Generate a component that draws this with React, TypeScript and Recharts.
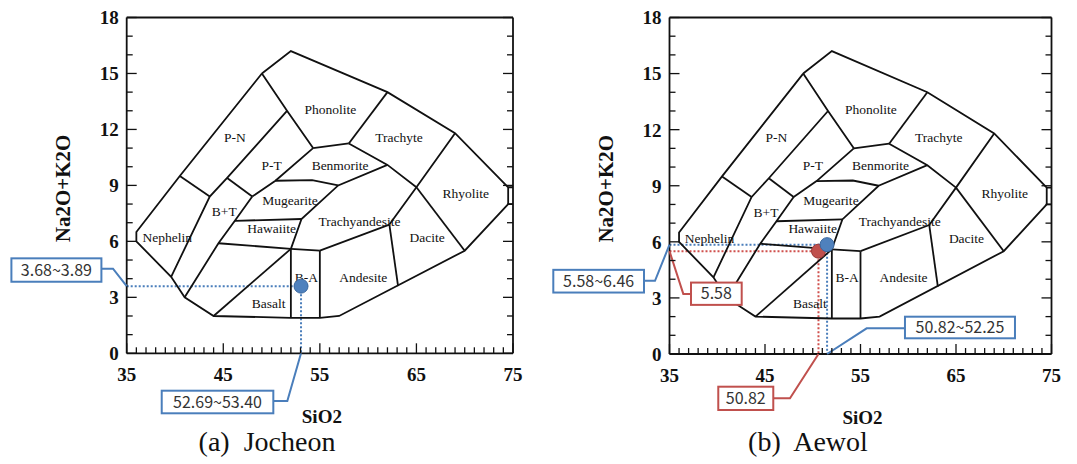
import React from 'react'
import { ComposedChart, Scatter, XAxis, YAxis, ReferenceLine, ReferenceDot } from 'recharts'

type Pt = [number, number]

// TAS field boundaries (SiO2, Na2O+K2O)
const outline: Pt[] = [
  [49, 15], [52, 16.2], [62, 14], [69, 11.8], [74.5, 8.9], [74.5, 8], [70, 5.5], [57, 2],
  [55, 1.9], [52, 1.9], [44, 2], [41, 3], [39.6, 4.1], [36, 6], [36, 6.5], [40.5, 9.5], [49, 15]
]
const fieldLines: Pt[][] = [
  [[49, 15], [51.6, 13], [54.3, 11]],
  [[51.6, 13], [45.4, 9.4], [43.6, 8.4], [39.6, 4.1]],
  [[40.5, 9.5], [43.6, 8.4]],
  [[45.4, 9.4], [48, 8.4]],
  [[48, 8.4], [46.2, 7.1], [44.5, 5.9], [41, 3]],
  [[54.3, 11], [50.4, 9.25], [48, 8.4]],
  [[54.3, 11], [58, 11.25]],
  [[62, 14], [58, 11.25]],
  [[58, 11.25], [62, 10.1], [65, 8.9]],
  [[69, 11.8], [65, 8.9], [62.2, 6.9]],
  [[65, 8.9], [70, 5.5]],
  [[62, 10.1], [56.9, 9], [53.1, 7.2], [52, 5.6]],
  [[50.4, 9.25], [54.2, 9.28], [56.9, 9]],
  [[46.2, 7.1], [53.1, 7.2]],
  [[44.5, 5.9], [52, 5.6], [55, 5.5]],
  [[55, 5.5], [62.2, 6.9]],
  [[62.2, 6.9], [63.1, 3.6]],
  [[44, 2], [52, 5.6]],
  [[52, 5.6], [52, 1.9]],
  [[55, 5.5], [55, 1.9]],
  [[74.5, 8.9], [75, 8.9]],
  [[74.5, 8], [75, 8]]
]

const fieldNames = ['Phonolite', 'Trachyte', 'P-N', 'P-T', 'Benmorite', 'Rhyolite', 'Mugearite', 'B+T',
  'Trachyandesite', 'Hawaiite', 'Nephelin', 'Dacite', 'B-A', 'Andesite', 'Basalt']
const fieldNameX = [56.1, 63.2, 46.2, 50.0, 57.1, 70.1, 51.9, 45.1, 59.1, 50.0, 39.2, 66.1, 53.6, 59.5, 49.7]
const fieldNameY = [13.1, 11.6, 11.6, 10.1, 10.1, 8.6, 8.2, 7.6, 7.1, 6.7, 6.2, 6.2, 4.1, 4.1, 2.7]

const xLabelTicks = [35, 45, 55, 65, 75]
const yLabelTicks = [0, 3, 6, 9, 12, 15, 18]

// samples
const jocheonSiO2 = [53.05]
const jocheonAlkali = [3.6]
const jocheonSiO2Range = [52.69, 53.4]
const jocheonAlkaliRange = [3.68, 3.89]

const aewolSiO2 = [51.5]
const aewolAlkali = [5.85]
const aewolSiO2Range = [50.82, 52.25]
const aewolAlkaliRange = [5.58, 6.46]
const aewolMinSiO2 = [50.6]
const aewolMinAlkali = [5.5]
const aewolMinValues = [50.82, 5.58]

const INK = '#111'
const BLUE = '#4a7ebb'
const RED = '#c0504d'
const SERIF = 'Liberation Serif, DejaVu Serif, serif'
const SANS = 'Noto Sans CJK KR, Noto Sans, sans-serif'

const range = (a: number, b: number) => {
  const r: number[] = []
  for (let v = a; v <= b; v++) r.push(v)
  return r
}
const xMinorTicks = range(35, 75)
const yMinorTicks = range(0, 18)

const toPts = (line: Pt[]) => line.map(([x, y]) => ({ x, y }))
const fieldLabelData = fieldNames.map((name, i) => ({ name, x: fieldNameX[i], y: fieldNameY[i] }))
const fmt = (r: number[]) => r.map(v => v.toFixed(2)).join('~')

const axisStyle = { stroke: INK, strokeWidth: 1.8 }

function BottomTick(props: any) {
  const { x, y, payload } = props
  const major = xLabelTicks.includes(payload.value)
  return (
    <g>
      <line x1={x} x2={x} y1={y} y2={y - (major ? 10 : 6)} stroke={INK} strokeWidth={1.3} />
      {major && (
        <text x={x} y={y + 28} textAnchor="middle" style={{ fontFamily: SERIF }} fontWeight="bold" fontSize={19} fill={INK}>
          {payload.value}
        </text>
      )}
    </g>
  )
}

function TopTick(props: any) {
  const { x, y, payload } = props
  const major = xLabelTicks.includes(payload.value)
  return <line x1={x} x2={x} y1={y} y2={y + (major ? 10 : 6)} stroke={INK} strokeWidth={1.3} />
}

function LeftTick(props: any) {
  const { x, y, payload } = props
  const major = yLabelTicks.includes(payload.value)
  return (
    <g>
      <line x1={x} x2={x + (major ? 10 : 6)} y1={y} y2={y} stroke={INK} strokeWidth={1.3} />
      {major && (
        <text x={x - 8} y={y} dy="0.36em" textAnchor="end" style={{ fontFamily: SERIF }} fontWeight="bold" fontSize={19} fill={INK}>
          {payload.value}
        </text>
      )}
    </g>
  )
}

function RightTick(props: any) {
  const { x, y, payload } = props
  const major = yLabelTicks.includes(payload.value)
  return <line x1={x} x2={x - (major ? 10 : 6)} y1={y} y2={y} stroke={INK} strokeWidth={1.3} />
}

const NoPoint = () => <g />

const renderFieldName = (p: any) => (
  <text x={p.cx} y={p.cy} dy="0.35em" textAnchor="middle" style={{ fontFamily: SERIF }} fontSize={13.5} fill={INK}>
    {p.payload.name}
  </text>
)

const dot = (fill: string, edge: string) => (p: any) => (
  <circle cx={p.cx} cy={p.cy} r={7} fill={fill} stroke={edge} strokeWidth={1} />
)

interface Callout {
  text: string
  x: number
  y: number
  color: string
  box: [number, number, number, number] // dx, dy, w, h from the anchor in px
  leader: Pt[]
}

const calloutShape = (c: Callout) => (p: any) => {
  const { cx, cy } = p
  const [dx, dy, w, h] = c.box
  const pts = [...c.leader, [0, 0]].map(([a, b]) => `${cx + a},${cy + b}`).join(' ')
  return (
    <g>
      <polyline points={pts} fill="none" stroke={c.color} strokeWidth={2} />
      <rect x={cx + dx} y={cy + dy} width={w} height={h} fill="#fff" stroke={c.color} strokeWidth={2} />
      <text x={cx + dx + w / 2} y={cy + dy + h / 2} dy="0.36em" textAnchor="middle" style={{ fontFamily: SANS }} fontSize={16} fill="#333">
        {c.text}
      </text>
    </g>
  )
}

interface Guide { x: number; y: number; color: string }
interface Sample { x: number; y: number; fill: string; edge: string }

function TasDiagram(props: {
  width: number
  margin: { top: number; right: number; bottom: number; left: number }
  samples: Sample[]
  guides: Guide[]
  callouts: Callout[]
}) {
  const { width, margin, samples, guides, callouts } = props
  const xTitle = (p: any) => {
    const vb = p.viewBox
    return (
      <text x={vb.x + vb.width / 2 + 2} y={vb.y + 70} textAnchor="middle" style={{ fontFamily: SERIF }} fontWeight="bold" fontSize={19} fill={INK}>
        SiO2
      </text>
    )
  }
  const yTitle = (p: any) => {
    const vb = p.viewBox
    const cx = vb.x + vb.width - 64
    const cy = vb.y + vb.height / 2 + 3
    return (
      <text x={cx} y={cy} dy="0.36em" textAnchor="middle" transform={`rotate(-90 ${cx} ${cy})`}
        style={{ fontFamily: SERIF }} fontWeight="bold" fontSize={21} fill={INK}>
        Na2O+K2O
      </text>
    )
  }
  return (
    <ComposedChart width={width} height={464} margin={margin}>
      <XAxis type="number" dataKey="x" domain={[35, 75]} allowDataOverflow ticks={xMinorTicks} interval={0}
        tickSize={0} tickMargin={0} tick={<BottomTick />} tickLine={false} axisLine={axisStyle} height={40} label={xTitle} />
      <XAxis xAxisId="top" orientation="top" type="number" domain={[35, 75]} allowDataOverflow ticks={xMinorTicks}
        interval={0} tickSize={0} tickMargin={0} tick={<TopTick />} tickLine={false} axisLine={axisStyle} height={1} />
      <YAxis type="number" dataKey="y" domain={[0, 18]} allowDataOverflow ticks={yMinorTicks} interval={0}
        tickSize={0} tickMargin={0} tick={<LeftTick />} tickLine={false} axisLine={axisStyle} width={60} label={yTitle} />
      <YAxis yAxisId="right" orientation="right" type="number" domain={[0, 18]} allowDataOverflow ticks={yMinorTicks}
        interval={0} tickSize={0} tickMargin={0} tick={<RightTick />} tickLine={false} axisLine={axisStyle} width={1} />

      {[outline, ...fieldLines].map((line, i) => (
        <Scatter key={`f${i}`} data={toPts(line)} line={{ stroke: INK, strokeWidth: 1.8 }} lineJointType="linear"
          shape={NoPoint} isAnimationActive={false} />
      ))}
      <Scatter data={fieldLabelData} shape={renderFieldName} isAnimationActive={false} />

      {guides.map((g, i) => (
        <ReferenceLine key={`gh${i}`} segment={[{ x: 35, y: g.y }, { x: g.x, y: g.y }]} stroke={g.color}
          strokeWidth={2} strokeDasharray="2 2" ifOverflow="visible" />
      ))}
      {guides.map((g, i) => (
        <ReferenceLine key={`gv${i}`} segment={[{ x: g.x, y: g.y }, { x: g.x, y: 0 }]} stroke={g.color}
          strokeWidth={2} strokeDasharray="2 2" ifOverflow="visible" />
      ))}
      {samples.map((s, i) => (
        <Scatter key={`s${i}`} data={[{ x: s.x, y: s.y }]} shape={dot(s.fill, s.edge)} isAnimationActive={false} />
      ))}
      {callouts.map((c, i) => (
        <ReferenceDot key={`c${i}`} x={c.x} y={c.y} r={0} ifOverflow="visible" shape={calloutShape(c)} />
      ))}
    </ComposedChart>
  )
}

const jocheonCallouts: Callout[] = [
  { text: fmt(jocheonAlkaliRange), x: 35, y: jocheonAlkali[0], color: BLUE,
    box: [-115.3, -27.8, 90, 23.4], leader: [[-25.3, -17.5], [-13.7, -17.5]] },
  { text: fmt(jocheonSiO2Range), x: jocheonSiO2[0], y: 0, color: BLUE,
    box: [-139.3, 37.4, 111.6, 22.6], leader: [[-27.7, 47.7], [-13.7, 47.7]] }
]

const aewolCallouts: Callout[] = [
  { text: fmt(aewolAlkaliRange), x: 35, y: aewolAlkali[0], color: BLUE,
    box: [-116.2, 25.2, 90.7, 22.7], leader: [[-25.5, 36.2], [-14.5, 36.2]] },
  { text: aewolMinValues[1].toFixed(2), x: 35, y: aewolMinAlkali[0], color: RED,
    box: [21.5, 31.4, 50.7, 22.3], leader: [[21.5, 42.7], [13.8, 42.7]] },
  { text: aewolMinValues[0].toFixed(2), x: aewolMinSiO2[0], y: 0, color: RED,
    box: [-100.2, 32.7, 55, 23.3], leader: [[-45.2, 44.3], [-28.5, 44.3]] },
  { text: fmt(aewolSiO2Range), x: aewolSiO2[0], y: 0, color: BLUE,
    box: [77.9, -37.3, 110, 21.6], leader: [[77.9, -25.7], [39.6, -25.7]] }
]

const captionStyle: React.CSSProperties = {
  position: 'absolute', top: 425, width: 280, textAlign: 'center', fontFamily: SERIF,
  fontSize: 28, color: INK, whiteSpace: 'pre', lineHeight: '34px'
}

export default function App() {
  return (
    <div style={{ position: 'absolute', left: 0, top: 0, width: 1077, height: 464, background: '#fff' }}>
      <div style={{ position: 'absolute', left: 0, top: 0 }}>
        <TasDiagram
          width={540}
          margin={{ top: 16.5, right: 26, bottom: 70.7, left: 66.7 }}
          samples={[{ x: jocheonSiO2[0], y: jocheonAlkali[0], fill: '#4f81bd', edge: '#3a68a0' }]}
          guides={[{ x: jocheonSiO2[0], y: jocheonAlkali[0], color: BLUE }]}
          callouts={jocheonCallouts}
        />
      </div>
      <div style={{ position: 'absolute', left: 540, top: 0 }}>
        <TasDiagram
          width={537}
          margin={{ top: 16.5, right: 24.5, bottom: 70, left: 69.5 }}
          samples={[
            { x: aewolMinSiO2[0], y: aewolMinAlkali[0], fill: '#c0504d', edge: '#9a3a37' },
            { x: aewolSiO2[0], y: aewolAlkali[0], fill: '#4f81bd', edge: '#3a68a0' }
          ]}
          guides={[
            { x: aewolSiO2[0], y: aewolAlkali[0], color: BLUE },
            { x: aewolMinSiO2[0], y: aewolMinAlkali[0], color: '#d0504d' }
          ]}
          callouts={aewolCallouts}
        />
      </div>
      <div style={{ ...captionStyle, left: 127 }}>{'(a)  Jocheon'}</div>
      <div style={{ ...captionStyle, left: 668 }}>{'(b)  Aewol'}</div>
    </div>
  )
}
